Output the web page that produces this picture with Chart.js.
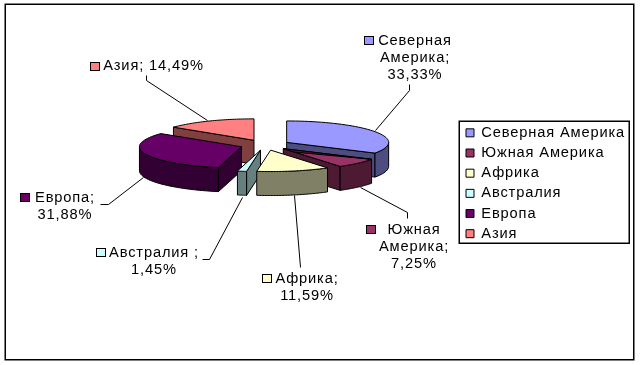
<!DOCTYPE html>
<html><head><meta charset="utf-8">
<style>html,body{margin:0;padding:0;background:#fff}canvas{display:block}</style>
<script src="https://cdn.jsdelivr.net/npm/chart.js@4"></script>
</head><body>
<div style="width:640px;height:365px"><canvas id="c" width="640" height="365"></canvas></div>
<script>
const categories = ['Северная Америка','Южная Америка','Африка','Австралия','Европа','Азия'];
const shares = [33.33,7.25,11.59,1.45,31.88,14.49];
const fills = ['#9999FF','#993366','#FFFFCC','#CCFFFF','#660066','#FF8080'];
const walls = ['#4D4D80','#4D1933','#808066','#668080','#330033','#804040'];
const paintOrder = [5,0,4,1,3,2];

const FONT = '14.67px "Liberation Sans", Arial, sans-serif';
const SPACING = '0.85px';
const TILT = 0.21, DEPTH = 24;

const dataLabels = [
 {lines:['Северная','Америка;','33,33%'],cx:415,y:45,sw:[364,36],lead:[[409,84],[409,90],[375,130]]},
 {lines:['Южная','Америка;','7,25%'],cx:414,y:234,sw:[366,225],lead:[[407,218],[407,212],[360,187]]},
 {lines:['Африка;','11,59%'],cx:307,y:283,sw:[262,274],lead:[[300,267],[294,195]]},
 {lines:['Австралия ;','1,45%'],cx:154,y:257,sw:[96,248],lead:[[202,259],[209,259],[242,197]]},
 {lines:['Европа;','31,88%'],cx:65,y:202,sw:[20,193],lead:[[100,204],[108,204],[143,177]]},
 {lines:['Азия; 14,49%'],cx:153.5,y:70,sw:[90,62],lead:[[146,75],[146,80],[207,120]]}
];

function pieGeometry(arc){
  const p = arc.getProps(['x','y','startAngle','endAngle','outerRadius']);
  const off = (arc.options.offset||0)/4, mid=(p.startAngle+p.endAngle)/2;
  const ax = p.x+Math.cos(mid)*off, ay = p.y+Math.sin(mid)*off;
  const proj = (a,r)=>[ax+Math.cos(a)*r, p.y+(ay-p.y+Math.sin(a)*r)*TILT];
  return {p,proj};
}
function poly(ctx,pts,fill){
  ctx.beginPath();
  pts.forEach((q,i)=>i?ctx.lineTo(q[0],q[1]):ctx.moveTo(q[0],q[1]));
  ctx.closePath();
  ctx.fillStyle=fill;ctx.fill();ctx.stroke();
}
const pie3d = {
  id:'pie3d',
  beforeLayout(chart){chart.ctx.letterSpacing=SPACING;},
  beforeDraw(chart){chart.ctx.letterSpacing=SPACING;},
  afterLayout(chart){
    const a=chart.chartArea; a.left=165;a.right=365;a.top=45;a.bottom=245;
    const l=chart.legend; const w=l.width,h=l.height;
    l.left=460.5;l.right=460.5+w;l.top=120;l.bottom=120+h;
  },
  beforeDatasetsDraw(chart){
    const ctx=chart.ctx, arcs=chart.getDatasetMeta(0).data;
    ctx.save();
    ctx.strokeStyle='#000';ctx.lineWidth=1;ctx.lineJoin='round';
    paintOrder.forEach(i=>{
      const {p,proj}=pieGeometry(arcs[i]);
      const n=48, s=p.startAngle, e=p.endAngle, apex=proj(0,0);
      const down=q=>[q[0],q[1]+DEPTH];
      const sP=proj(s,p.outerRadius), eP=proj(e,p.outerRadius);
      if(Math.cos(s)<-1e-6) poly(ctx,[apex,sP,down(sP),down(apex)],walls[i]);
      if(Math.cos(e)>1e-6) poly(ctx,[apex,eP,down(eP),down(apex)],walls[i]);
      const rim=[];
      for(let k=0;k<=n;k++){const a=s+(e-s)*k/n; if(Math.sin(a)>=-1e-6) rim.push(proj(a,p.outerRadius));}
      if(rim.length>1) poly(ctx,rim.concat(rim.map(down).reverse()),walls[i]);
      const top=[apex];
      for(let k=0;k<=n;k++) top.push(proj(s+(e-s)*k/n,p.outerRadius));
      poly(ctx,top,fills[i]);
      if(i===1){ // dark lip along the back edge of this slice
        const t=0.2; poly(ctx,[apex,sP,[apex[0]+(eP[0]-apex[0])*t,apex[1]+(eP[1]-apex[1])*t]],walls[i]);
      }
    });
    ctx.restore();
    return false;
  },
  afterDraw(chart){
    const ctx=chart.ctx;
    ctx.save();
    ctx.letterSpacing=SPACING;
    ctx.strokeStyle='#000';
    ctx.lineWidth=1.5;ctx.strokeRect(5.25,4.25,628.5,355.5);
    ctx.lineWidth=1.5;ctx.strokeRect(459.25,121.25,170,122);
    ctx.lineWidth=1;ctx.font=FONT;ctx.fillStyle='#000';ctx.textAlign='center';ctx.textBaseline='alphabetic';
    dataLabels.forEach((d,i)=>{
      ctx.beginPath();
      d.lead.forEach((q,j)=>j?ctx.lineTo(q[0]+.5,q[1]+.5):ctx.moveTo(q[0]+.5,q[1]+.5));
      ctx.stroke();
      ctx.fillStyle=fills[i];ctx.fillRect(d.sw[0]+.5,d.sw[1]+.5,9,8);ctx.strokeRect(d.sw[0]+.5,d.sw[1]+.5,9,8);
      ctx.fillStyle='#000';
      d.lines.forEach((t,j)=>ctx.fillText(t,d.cx,d.y+j*17));
    });
    ctx.restore();
  }
};
new Chart(document.getElementById('c'),{
  type:'pie',
  plugins:[pie3d],
  data:{labels:categories,datasets:[{data:shares,backgroundColor:fills,borderColor:'#000',borderWidth:1,offset:100,radius:102}]},
  options:{
    responsive:false,animation:false,
    radius:102,
    plugins:{
      tooltip:{enabled:false},
      legend:{position:'right',align:'start',labels:{boxWidth:8,boxHeight:8,padding:5.5,color:'#000',font:{family:'"Liberation Sans", Arial, sans-serif',size:14.67}}}
    }
  }
});
</script>
</body></html>
